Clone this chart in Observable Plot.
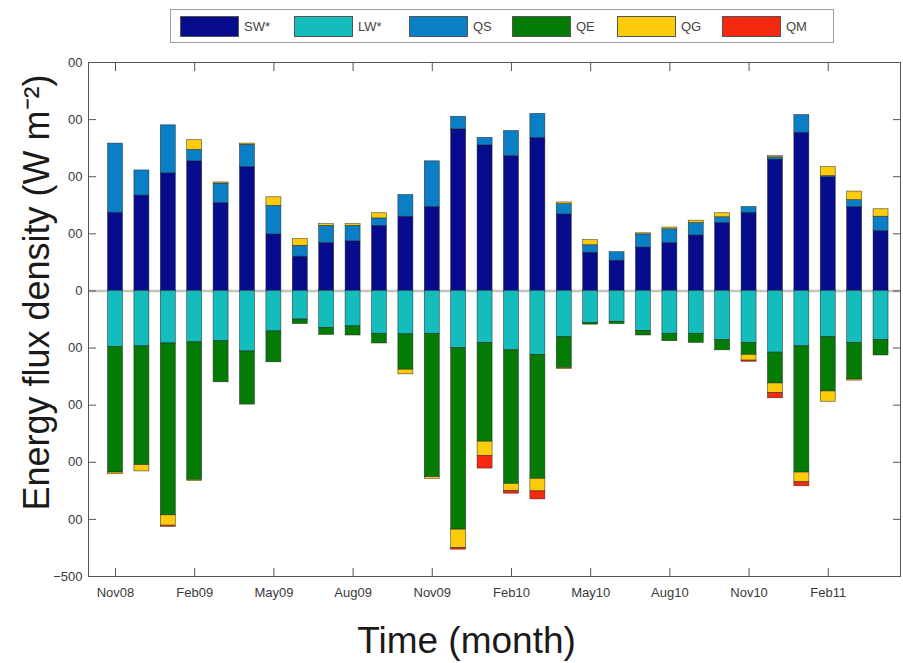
<!DOCTYPE html>
<html>
<head>
<meta charset="utf-8">
<script src="https://cdn.jsdelivr.net/npm/d3@7"></script>
<script src="https://cdn.jsdelivr.net/npm/@observablehq/plot@0.6"></script>
<style>
  html, body { margin: 0; padding: 0; background: #fff; }
  body { width: 903px; height: 663px; overflow: hidden; font-family: "Liberation Sans", Arial, sans-serif; }
  #legend { position: relative; height: 52px; }
  #legend .box { position: absolute; left: 170px; top: 9px; width: 664px; height: 34px; border: 1px solid #a0a0a0; box-sizing: border-box; background: #fff; }
  #legend .sw { position: absolute; top: 16px; width: 59px; height: 21px; box-sizing: border-box; border: 1px solid #555; }
  #legend .lb { position: absolute; top: 17px; font-size: 13px; line-height: 19px; color: #444; }
  #chart svg { display: block; }
</style>
</head>
<body>
<div id="legend"><div class="box"></div></div>
<div id="chart"></div>
<script>
// ---- data ----
const months = ["Nov08","Dec08","Jan09","Feb09","Mar09","Apr09","May09","Jun09","Jul09","Aug09",
                "Sep09","Oct09","Nov09","Dec09","Jan10","Feb10","Mar10","Apr10","May10","Jun10",
                "Jul10","Aug10","Sep10","Oct10","Nov10","Dec10","Jan11","Feb11","Mar11","Apr11"];
const keys = ["SW*","LW*","QS","QE","QG","QM"];
const colors = ["#060c8c","#14bcbc","#0b7fc6","#047b04","#fccb0a","#f5290f"];

const SW  = [137,167,206,227,154,217,99,60,84,87, 114,130,147,283,255,236,268,134,67,53, 76,84,97,119,137,230,277,199,147,105];
const LW  = [-98,-97,-92,-90,-88,-106,-71,-50,-65,-62, -75,-76,-75,-100,-91,-104,-112,-81,-56,-54, -70,-75,-75,-86,-91,-108,-97,-81,-91,-86];
const QS  = [121,44,84,20,34,39,50,19,30,27, 13,38,80,22,13,44,42,18,13,15, 23,24,22,10,10,4,31,2,12,25];
const QE  = [-220,-208,-301,-241,-72,-93,-54,-8,-12,-16, -17,-62,-251,-318,-173,-234,-217,-54,-3,-4, -8,-13,-16,-18,-21,-54,-221,-95,-64,-27];
const QGpos = [0,0,0,17,2,2,15,12,3,3, 9,0,0,0,0,0,0,3,9,0, 2,3,4,7,0,2,0,16,15,13];
const QGneg = [-3,-11,-18,-2,0,0,0,0,0,0, 0,-8,-3,-32,-25,-12,-22,-2,0,0, 0,0,0,0,-10,-17,-17,-18,-2,0];
const QM  = [0,0,-2,0,0,0,0,0,0,0, 0,0,0,-3,-22,-5,-14,0,0,0, 0,0,0,0,-2,-9,-7,0,0,0];

const xTicks = ["Nov08","Feb09","May09","Aug09","Nov09","Feb10","May10","Aug10","Nov10","Feb11"];
const yTickValues = [-500,-400,-300,-200,-100,0,100,200,300,400];
const yTickLabels = ["\u2212500","00","00","00","00","0","00","00","00","00"];
const yTitle = "Energy flux density (W m\u207B\u00B2)";
const xTitle = "Time (month)";

// ---- table ----
const rows = [];
months.forEach((m, i) => {
  const parts = [["SW*", SW[i]], ["LW*", LW[i]], ["QS", QS[i]], ["QE", QE[i]],
                 ["QG", QGpos[i]], ["QG", QGneg[i]], ["QM", QM[i]]];
  for (const [k, v] of parts) if (v !== 0) rows.push({month: m, key: k, value: v});
});

// ---- legend ----
const legend = document.getElementById("legend");
const swLeft = [180, 294, 409, 512, 617, 722];
keys.forEach((k, i) => {
  const s = document.createElement("div");
  s.className = "sw"; s.style.left = swLeft[i] + "px"; s.style.background = colors[i];
  legend.appendChild(s);
  const t = document.createElement("div");
  t.className = "lb"; t.style.left = (swLeft[i] + 64) + "px"; t.textContent = k;
  legend.appendChild(t);
});

const yFmt = d => yTickLabels[yTickValues.indexOf(d)];
const tickColor = "#3a3a3a";

const chart = Plot.plot({
  width: 903, height: 611,
  marginTop: 10, marginBottom: 87, marginLeft: 88, marginRight: 3,
  style: {fontFamily: "'Liberation Sans', Arial, sans-serif", fontSize: "13px", background: "transparent", overflow: "visible"},
  x: {type: "band", domain: months, paddingInner: 0.432, paddingOuter: 0.596, align: 0.62, round: false},
  y: {domain: [-500, 400]},
  color: {domain: keys, range: colors},
  marks: [
    Plot.ruleY([0], {stroke: "#c4c4c4", strokeWidth: 2.5}),
    Plot.barY(rows, Plot.stackY({x: "month", y: "value", fill: "key", stroke: "#222", strokeWidth: 0.6, strokeOpacity: 0.8})),
    Plot.frame({stroke: "#555"}),
    // inward tick marks on all four sides
    Plot.axisY({anchor: "left", ticks: yTickValues, tickSize: -8, tickFormat: () => "", label: null, color: "#555"}),
    Plot.axisY({anchor: "right", ticks: yTickValues, tickSize: -8, tickFormat: () => "", label: null, color: "#555"}),
    Plot.axisX({anchor: "bottom", ticks: xTicks, tickSize: -8, tickFormat: () => "", label: null, color: "#555"}),
    Plot.axisX({anchor: "top", ticks: xTicks, tickSize: -8, tickFormat: () => "", label: null, color: "#555"}),
    // tick labels
    Plot.axisY({anchor: "left", ticks: yTickValues, tickSize: 0, tickPadding: 6, tickFormat: yFmt, label: null, color: tickColor, fontSize: 13}),
    Plot.axisX({anchor: "bottom", ticks: xTicks, tickSize: 0, tickPadding: 11, label: null, color: tickColor, fontSize: 13}),
    // axis titles
    Plot.text([yTitle], {text: d => d, frameAnchor: "left", textAnchor: "middle", rotate: -90, dx: -51, dy: -27, fontSize: 36, fill: "#1a1a1a"}),
    Plot.text([xTitle], {text: d => d, frameAnchor: "bottom", dx: -28, dy: 76, fontSize: 37, fill: "#1a1a1a"})
  ]
});
document.getElementById("chart").appendChild(chart);
</script>
</body>
</html>
